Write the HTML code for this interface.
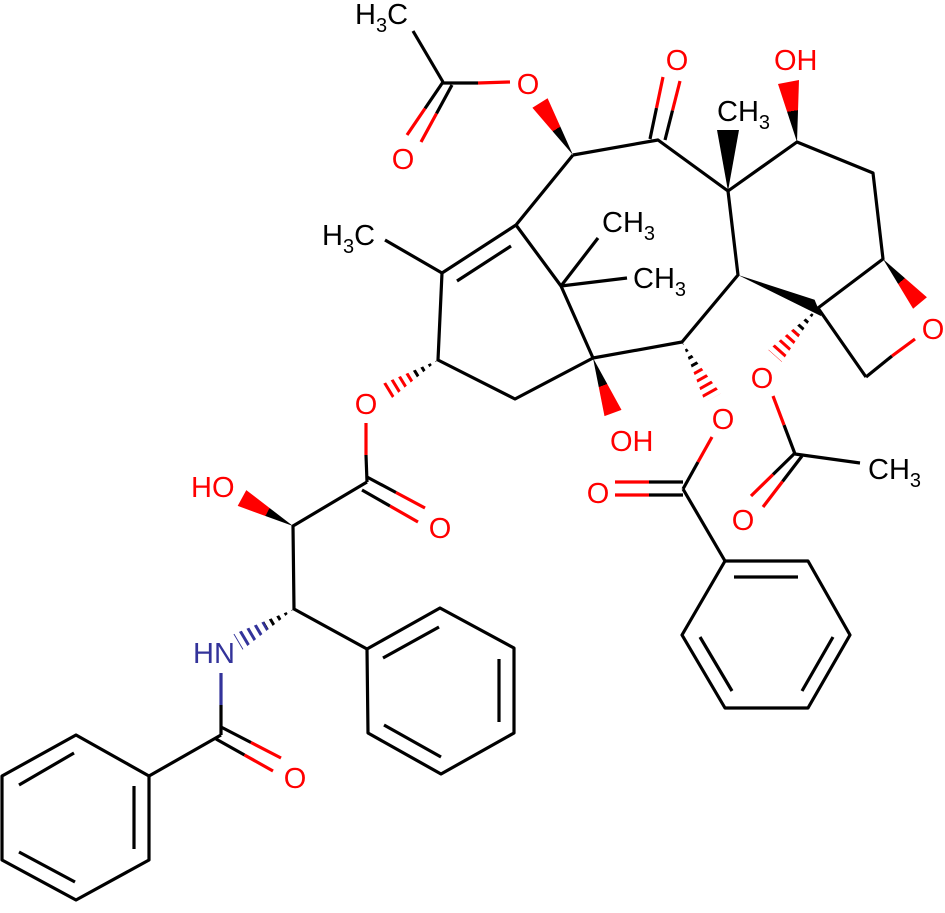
<!DOCTYPE html>
<html><head><meta charset="utf-8"><style>
html,body{margin:0;padding:0;background:#fff}
svg{display:block}
text{font-family:"Liberation Sans",Arial,sans-serif;font-size:29px}
.s{font-size:20px}
</style></head><body>
<svg width="945" height="913" viewBox="0 0 945 913" xmlns="http://www.w3.org/2000/svg">
<defs>
<linearGradient id="ga" gradientUnits="userSpaceOnUse" x1="573" y1="155" x2="540" y2="103"><stop offset="0.5" stop-color="#000"/><stop offset="0.5" stop-color="#f00"/></linearGradient>
<linearGradient id="gb" gradientUnits="userSpaceOnUse" x1="593" y1="358" x2="613" y2="413"><stop offset="0.5" stop-color="#000"/><stop offset="0.5" stop-color="#f00"/></linearGradient>
<linearGradient id="gd" gradientUnits="userSpaceOnUse" x1="797" y1="142" x2="788" y2="80"><stop offset="0.5" stop-color="#000"/><stop offset="0.5" stop-color="#f00"/></linearGradient>
<linearGradient id="gf" gradientUnits="userSpaceOnUse" x1="883" y1="259" x2="920" y2="303"><stop offset="0.5" stop-color="#000"/><stop offset="0.5" stop-color="#f00"/></linearGradient>
<linearGradient id="gg" gradientUnits="userSpaceOnUse" x1="293" y1="526" x2="242" y2="498"><stop offset="0.5" stop-color="#000"/><stop offset="0.5" stop-color="#f00"/></linearGradient>
<linearGradient id="h1" gradientUnits="userSpaceOnUse" x1="438" y1="360" x2="384" y2="393"><stop offset="0.5" stop-color="#000"/><stop offset="0.5" stop-color="#f00"/></linearGradient>
<linearGradient id="h2" gradientUnits="userSpaceOnUse" x1="294" y1="609" x2="238" y2="642"><stop offset="0.5" stop-color="#000"/><stop offset="0.5" stop-color="#33339a"/></linearGradient>
<linearGradient id="h3" gradientUnits="userSpaceOnUse" x1="682" y1="342" x2="713" y2="398"><stop offset="0.5" stop-color="#000"/><stop offset="0.5" stop-color="#f00"/></linearGradient>
<linearGradient id="h4" gradientUnits="userSpaceOnUse" x1="818" y1="308" x2="775" y2="356"><stop offset="0.5" stop-color="#000"/><stop offset="0.5" stop-color="#f00"/></linearGradient>
<clipPath id="c1"><polygon points="438,360 379.3,385.3 388.7,400.7"/></clipPath>
<clipPath id="c2"><polygon points="294,609 233.4,634.2 242.6,649.8"/></clipPath>
<clipPath id="c3"><polygon points="682,342 705.1,402.4 720.9,393.6"/></clipPath>
<clipPath id="c4"><polygon points="818,308 768.3,350 781.7,362"/></clipPath>
</defs>

<g stroke="#000" stroke-width="3.2" fill="none" stroke-linejoin="round">
<line x1="413" y1="31" x2="443" y2="82"/>
<line x1="443" y1="83" x2="478" y2="83"/>
<line x1="443" y1="82" x2="425" y2="108.5"/>
<line x1="452" y1="85" x2="436.5" y2="113.5"/>
<polyline points="573,155 658,140 728,191 797,142 873,173 883,259 818,308 866,377"/>
<polyline points="573,155 516,225 442,273 438,360 515,399 593,358 682,342 738,275 728,191"/>
<line x1="457" y1="281" x2="511" y2="246"/>
<line x1="442" y1="273" x2="385" y2="240"/>
<polyline points="516,225 561,286 593,358"/>
<line x1="561" y1="286" x2="598" y2="238"/>
<line x1="561" y1="286" x2="627" y2="278"/>
<line x1="866" y1="377" x2="892" y2="356"/>
<line x1="650" y1="139" x2="656.5" y2="108"/>
<line x1="665" y1="140" x2="672.5" y2="110.5"/>
<line x1="366" y1="455" x2="367" y2="482"/>
<polyline points="367,482 293,526 294,609 367,649"/>
<line x1="362" y1="490" x2="390" y2="506"/>
<line x1="367" y1="477" x2="396" y2="492.5"/>
<polygon points="367,649 440,608 514,648 514,733 441,774 368,733"/>
<line x1="383" y1="658" x2="439" y2="627"/>
<line x1="499" y1="659" x2="499" y2="722"/>
<line x1="384" y1="725" x2="441" y2="757"/>
<line x1="221" y1="705" x2="221" y2="735"/>
<line x1="221" y1="735" x2="149" y2="776"/>
<line x1="216" y1="739" x2="244.5" y2="755"/>
<line x1="221" y1="727" x2="251" y2="742.5"/>
<polygon points="149,776 76,735 2,776 2,860 76,900 149,860"/>
<line x1="19" y1="785" x2="74" y2="753"/>
<line x1="134" y1="786" x2="134" y2="849"/>
<line x1="19" y1="852" x2="75" y2="882"/>
<line x1="784" y1="425" x2="795" y2="454"/>
<line x1="795" y1="454" x2="860" y2="463"/>
<line x1="795" y1="453" x2="773" y2="474.5"/>
<line x1="802" y1="456" x2="782.5" y2="481.5"/>
<line x1="698" y1="462" x2="683" y2="489"/>
<line x1="683" y1="489" x2="725" y2="561"/>
<line x1="683" y1="482" x2="649" y2="482"/>
<line x1="683" y1="495" x2="649" y2="495"/>
<polygon points="725,561 808,561 850,635 808,708 725,708 682,635"/>
<line x1="734" y1="577" x2="798" y2="577"/>
<line x1="700" y1="637" x2="732" y2="691"/>
<line x1="833" y1="637" x2="802" y2="691"/>
</g>

<g stroke="#f00" stroke-width="3.2" fill="none">
<line x1="478" y1="83" x2="510" y2="82"/>
<line x1="425" y1="108.5" x2="407" y2="135"/>
<line x1="436.5" y1="113.5" x2="421" y2="142"/>
<line x1="656.5" y1="108" x2="663" y2="77"/>
<line x1="672.5" y1="110.5" x2="680" y2="81"/>
<line x1="892" y1="356" x2="915" y2="339"/>
<line x1="366" y1="423" x2="366" y2="455"/>
<line x1="390" y1="506" x2="418" y2="522"/>
<line x1="396" y1="492.5" x2="425" y2="508"/>
<line x1="244.5" y1="755" x2="273" y2="771"/>
<line x1="251" y1="742.5" x2="281" y2="758"/>
<line x1="773" y1="396" x2="784" y2="425"/>
<line x1="773" y1="474.5" x2="751" y2="496"/>
<line x1="782.5" y1="481.5" x2="763" y2="507"/>
<line x1="712" y1="437" x2="698" y2="462"/>
<line x1="649" y1="482" x2="615" y2="482"/>
<line x1="649" y1="495" x2="615" y2="495"/>
</g>
<line x1="221" y1="673" x2="221" y2="705" stroke="#33339a" stroke-width="3.2"/>

<polygon points="573,155 547.6,98.2 532.4,107.8" fill="url(#ga)"/>
<polygon points="593,358 604.5,416.1 621.5,409.9" fill="url(#gb)"/>
<polygon points="728,191 739,130 717,130" fill="#000"/>
<polygon points="797,142 778,84 799,80" fill="url(#gd)"/>
<polygon points="738,275 814.6,299.7 821.4,316.3" fill="#000"/>
<polygon points="883,259 926.9,297.2 913.1,308.8" fill="url(#gf)"/>
<polygon points="293,526 246.3,490.1 237.7,505.9" fill="url(#gg)"/>

<line x1="438" y1="360" x2="384" y2="393" stroke="url(#h1)" stroke-width="22" stroke-dasharray="3 5" clip-path="url(#c1)"/>
<line x1="294" y1="609" x2="238" y2="642" stroke="url(#h2)" stroke-width="22" stroke-dasharray="3 5" clip-path="url(#c2)"/>
<line x1="682" y1="342" x2="713" y2="398" stroke="url(#h3)" stroke-width="22" stroke-dasharray="3 5" clip-path="url(#c3)"/>
<line x1="818" y1="308" x2="775" y2="356" stroke="url(#h4)" stroke-width="22" stroke-dasharray="3 5" clip-path="url(#c4)"/>

<g fill="#000">
<text x="355" y="24">H<tspan class="s" dy="8">3</tspan><tspan dy="-8">C</tspan></text>
<text x="322" y="245">H<tspan class="s" dy="8">3</tspan><tspan dy="-8">C</tspan></text>
<text x="602" y="232">CH<tspan class="s" dy="8">3</tspan></text>
<text x="633" y="288">CH<tspan class="s" dy="8">3</tspan></text>
<text x="717" y="121">CH<tspan class="s" dy="8">3</tspan></text>
<text x="868" y="479">CH<tspan class="s" dy="8">3</tspan></text>
</g>
<g fill="#f00" text-anchor="middle">
<text x="528" y="94">O</text>
<text x="403" y="169">O</text>
<text x="677" y="70">O</text>
<text x="933" y="339">O</text>
<text x="762" y="388">O</text>
<text x="743" y="530">O</text>
<text x="723" y="429">O</text>
<text x="598" y="503">O</text>
<text x="366" y="414">O</text>
<text x="440" y="538">O</text>
<text x="295" y="788">O</text>
</g>
<g fill="#f00">
<text x="774" y="70">OH</text>
<text x="610" y="451">OH</text>
<text x="191" y="497">HO</text>
</g>
<text x="193" y="663" fill="#33339a">HN</text>
</svg>
</body></html>
